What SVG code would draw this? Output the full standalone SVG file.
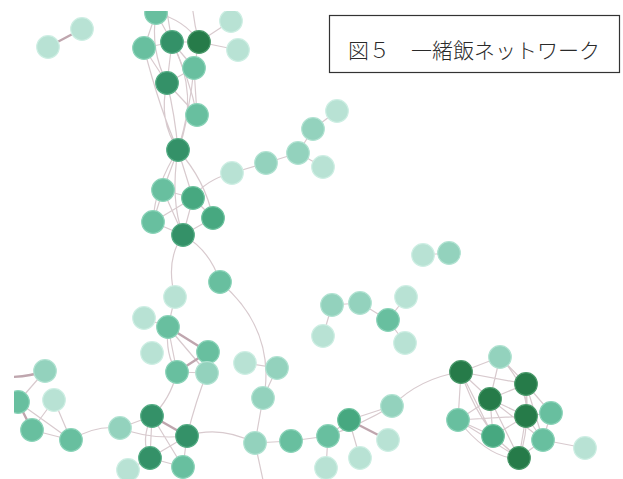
<svg xmlns="http://www.w3.org/2000/svg" width="623" height="479" viewBox="0 0 623 479">
<defs>
<style>
.e{fill:none;stroke:#d8cace;stroke-width:1.2}
.t{fill:none;stroke:#bfa6ae;stroke-width:2.4}
circle{stroke-width:1.2}
.L{fill:#b8e2d4;stroke:#cdeee3}
.ML{fill:#93d2bd;stroke:#b0e2d1}
.M{fill:#68bf9f;stroke:#8ad3b8}
.MD{fill:#47a880;stroke:#6cc29e}
.D{fill:#349168;stroke:#55ad85}
.DD{fill:#267b49;stroke:#4a9a6b}
.title{font-family:"Noto Sans CJK JP","Noto Sans",sans-serif;font-size:21px;font-weight:300;fill:#2a2a2a}
</style>
<clipPath id="clip"><rect x="14" y="11" width="609" height="468"/></clipPath>
</defs>
<rect width="623" height="479" fill="#fff"/>
<g clip-path="url(#clip)">
<g id="connectors">
<path class="t" d="M48,47 L82,29"/>
<!-- top cluster -->
<path class="e" d="M172,42 L165,0 M199,42 Q193,20 192,0"/>
<path class="e" d="M156,13 L144,48 M156,13 L172,42 M156,13 Q185,20 199,42 M144,48 L172,42 M172,42 L199,42 M199,42 L231,21 M199,42 L238,50 M172,42 L194,68 M199,42 L194,68 M144,48 L167,83 M172,42 L167,83 M194,68 L167,83 M167,83 L197,115 M194,68 L197,115 M172,42 Q190,80 197,115 M156,13 Q150,50 167,83"/>
<path class="e" d="M167,83 Q158,120 178,150 M167,83 Q175,115 178,150 M144,48 Q160,110 178,150 M194,68 Q190,110 178,150 M172,42 Q200,95 178,150"/>
<!-- middle cluster -->
<path class="e" d="M178,150 L163,190 M178,150 L193,198 M178,150 Q155,185 153,222 M178,150 Q205,180 213,218 M178,150 Q170,200 183,235 M163,190 L193,198 M163,190 L153,222 M163,190 L183,235 M193,198 L213,218 M193,198 L183,235 M153,222 L183,235 M213,218 L183,235 M153,222 L193,198 M193,198 Q205,180 232,173"/>
<path class="e" d="M232,173 L266,163 M266,163 L298,153 M298,153 L313,129 M313,129 L337,111 M298,153 L323,167"/>
<path class="e" d="M183,235 Q210,250 220,282 M220,282 Q265,320 266,373 Q266,390 263,398 M183,235 Q165,260 175,297"/>
<path class="e" d="M423,255 L449,253"/>
<path class="e" d="M332,305 L360,303 M332,305 L323,336 M360,303 L388,320 M406,297 L388,320 M388,320 L405,343"/>
<!-- lower middle -->
<path class="e" d="M175,297 L168,327 M144,318 L168,327 M168,327 L177,372 M168,327 L207,373 M177,372 L207,373 M168,327 Q165,355 177,372"/>
<path class="t" d="M168,327 L208,352 M177,372 L208,352"/>
<path class="e" d="M177,372 Q170,400 152,416 M207,373 Q196,400 187,436 M245,363 L277,368 M277,368 L263,398 M263,398 L255,443 M255,443 L263,480"/>
<!-- bottom left -->
<path class="t" d="M0,377 Q25,378 45,371 M18,402 L32,430"/>
<path class="e" d="M45,371 L18,402 M18,402 L71,440 M54,400 L32,430 M54,400 L71,440 M32,430 L71,440 M71,440 Q95,425 120,428"/>
<!-- bottom cluster -->
<path class="e" d="M120,428 L152,416 M120,428 Q150,440 187,436 M152,416 L150,458 M152,416 L183,467 M187,436 L150,458 M187,436 L183,467 M150,458 L183,467 M150,458 L128,470 M152,416 Q140,440 150,458 M187,436 Q220,425 255,443"/>
<path class="t" d="M152,416 L187,436"/>
<!-- bottom middle -->
<path class="e" d="M255,443 L291,441 M291,441 L328,436 M328,436 L349,420 M349,420 L392,406 M328,436 L326,468 M349,420 L360,458 M328,436 Q360,425 392,406 M392,406 Q420,378 461,372"/>
<path class="t" d="M349,420 L388,440"/>
<!-- right cluster -->
<path class="e" d="M461,372 L500,357 M461,372 L490,399 M461,372 L458,420 M461,372 L493,436 M461,372 Q480,430 519,458 M461,372 L526,384 M500,357 L526,384 M500,357 L490,399 M526,384 L490,399 M526,384 L526,416 M526,384 L551,413 M526,384 L543,440 M526,384 Q530,430 519,458 M490,399 L526,416 M490,399 L458,420 M490,399 L493,436 M490,399 L519,458 M526,416 L551,413 M526,416 L493,436 M526,416 L543,440 M526,416 L519,458 M551,413 L543,440 M458,420 L493,436 M458,420 L519,458 M493,436 L519,458 M543,440 L519,458 M543,440 L585,448 M458,420 L526,416 M490,399 L543,440 M500,357 Q530,390 526,416 M458,420 Q490,460 519,458"/>
</g>
<g id="n1"><circle class="L" cx="48" cy="47" r="11.3"/></g>
<g id="n2"><circle class="L" cx="82" cy="29" r="11.3"/></g>
<g id="n3"><circle class="M" cx="156" cy="13" r="11.3"/></g>
<g id="n4"><circle class="M" cx="144" cy="48" r="11.3"/></g>
<g id="n5"><circle class="D" cx="172" cy="42" r="11.3"/></g>
<g id="n6"><circle class="DD" cx="199" cy="42" r="11.3"/></g>
<g id="n7"><circle class="L" cx="231" cy="21" r="11.3"/></g>
<g id="n8"><circle class="L" cx="238" cy="50" r="11.3"/></g>
<g id="n9"><circle class="M" cx="194" cy="68" r="11.3"/></g>
<g id="n10"><circle class="D" cx="167" cy="83" r="11.3"/></g>
<g id="n11"><circle class="M" cx="197" cy="115" r="11.3"/></g>
<g id="n12"><circle class="D" cx="178" cy="150" r="11.3"/></g>
<g id="n13"><circle class="M" cx="163" cy="190" r="11.3"/></g>
<g id="n14"><circle class="MD" cx="193" cy="198" r="11.3"/></g>
<g id="n15"><circle class="M" cx="153" cy="222" r="11.3"/></g>
<g id="n16"><circle class="MD" cx="213" cy="218" r="11.3"/></g>
<g id="n17"><circle class="D" cx="183" cy="235" r="11.3"/></g>
<g id="n18"><circle class="L" cx="232" cy="173" r="11.3"/></g>
<g id="n19"><circle class="ML" cx="266" cy="163" r="11.3"/></g>
<g id="n20"><circle class="ML" cx="298" cy="153" r="11.3"/></g>
<g id="n21"><circle class="ML" cx="313" cy="129" r="11.3"/></g>
<g id="n22"><circle class="L" cx="337" cy="111" r="11.3"/></g>
<g id="n23"><circle class="L" cx="323" cy="167" r="11.3"/></g>
<g id="n24"><circle class="L" cx="423" cy="255" r="11.3"/></g>
<g id="n25"><circle class="ML" cx="449" cy="253" r="11.3"/></g>
<g id="n26"><circle class="ML" cx="332" cy="305" r="11.3"/></g>
<g id="n27"><circle class="ML" cx="360" cy="303" r="11.3"/></g>
<g id="n28"><circle class="L" cx="406" cy="297" r="11.3"/></g>
<g id="n29"><circle class="M" cx="388" cy="320" r="11.3"/></g>
<g id="n30"><circle class="L" cx="323" cy="336" r="11.3"/></g>
<g id="n31"><circle class="L" cx="405" cy="343" r="11.3"/></g>
<g id="n32"><circle class="M" cx="220" cy="282" r="11.3"/></g>
<g id="n33"><circle class="L" cx="175" cy="297" r="11.3"/></g>
<g id="n34"><circle class="L" cx="144" cy="318" r="11.3"/></g>
<g id="n35"><circle class="M" cx="168" cy="327" r="11.3"/></g>
<g id="n36"><circle class="L" cx="152" cy="353" r="11.3"/></g>
<g id="n37"><circle class="M" cx="208" cy="352" r="11.3"/></g>
<g id="n38"><circle class="M" cx="177" cy="372" r="11.3"/></g>
<g id="n39"><circle class="ML" cx="207" cy="373" r="11.3"/></g>
<g id="n40"><circle class="L" cx="245" cy="363" r="11.3"/></g>
<g id="n41"><circle class="ML" cx="277" cy="368" r="11.3"/></g>
<g id="n42"><circle class="ML" cx="263" cy="398" r="11.3"/></g>
<g id="n43"><circle class="ML" cx="45" cy="371" r="11.3"/></g>
<g id="n44"><circle class="M" cx="18" cy="402" r="11.3"/></g>
<g id="n45"><circle class="L" cx="54" cy="400" r="11.3"/></g>
<g id="n46"><circle class="M" cx="32" cy="430" r="11.3"/></g>
<g id="n47"><circle class="M" cx="71" cy="440" r="11.3"/></g>
<g id="n48"><circle class="ML" cx="120" cy="428" r="11.3"/></g>
<g id="n49"><circle class="D" cx="152" cy="416" r="11.3"/></g>
<g id="n50"><circle class="D" cx="187" cy="436" r="11.3"/></g>
<g id="n51"><circle class="D" cx="150" cy="458" r="11.3"/></g>
<g id="n52"><circle class="M" cx="183" cy="467" r="11.3"/></g>
<g id="n53"><circle class="L" cx="128" cy="470" r="11.3"/></g>
<g id="n54"><circle class="ML" cx="255" cy="443" r="11.3"/></g>
<g id="n55"><circle class="M" cx="291" cy="441" r="11.3"/></g>
<g id="n56"><circle class="M" cx="328" cy="436" r="11.3"/></g>
<g id="n57"><circle class="MD" cx="349" cy="420" r="11.3"/></g>
<g id="n58"><circle class="ML" cx="392" cy="406" r="11.3"/></g>
<g id="n59"><circle class="L" cx="388" cy="440" r="11.3"/></g>
<g id="n60"><circle class="L" cx="360" cy="458" r="11.3"/></g>
<g id="n61"><circle class="L" cx="326" cy="468" r="11.3"/></g>
<g id="n62"><circle class="ML" cx="500" cy="357" r="11.3"/></g>
<g id="n63"><circle class="DD" cx="461" cy="372" r="11.3"/></g>
<g id="n64"><circle class="DD" cx="526" cy="384" r="11.3"/></g>
<g id="n65"><circle class="DD" cx="490" cy="399" r="11.3"/></g>
<g id="n66"><circle class="DD" cx="526" cy="416" r="11.3"/></g>
<g id="n67"><circle class="M" cx="551" cy="413" r="11.3"/></g>
<g id="n68"><circle class="M" cx="458" cy="420" r="11.3"/></g>
<g id="n69"><circle class="MD" cx="493" cy="436" r="11.3"/></g>
<g id="n70"><circle class="M" cx="543" cy="440" r="11.3"/></g>
<g id="n71"><circle class="L" cx="585" cy="448" r="11.3"/></g>
<g id="n72"><circle class="DD" cx="519" cy="458" r="11.3"/></g>
</g>
<g id="title">
<rect x="329.5" y="15.5" width="290" height="57" fill="#fff" stroke="#333" stroke-width="1.2"/>
<text class="title" x="348" y="58">図５　一緒飯ネットワーク</text>
</g>
</svg>
